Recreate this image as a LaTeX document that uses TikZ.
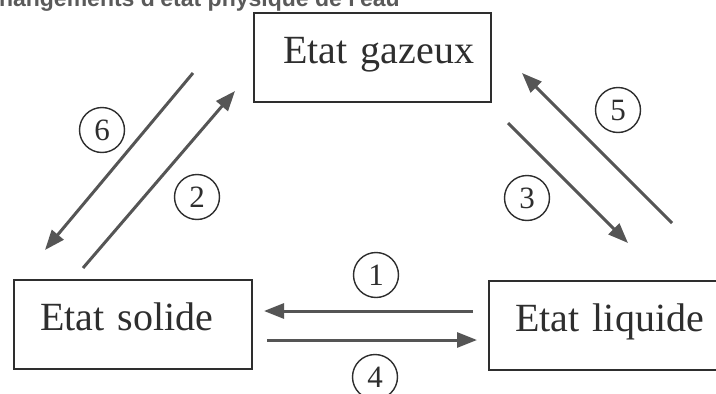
\documentclass[tikz,border=0pt]{standalone}
\usepackage{fontspec}
\setmainfont{Liberation Serif}
\newfontfamily\titlefont{Liberation Sans}
\usetikzlibrary{arrows.meta}
\definecolor{ink}{HTML}{2E2E2E}
\definecolor{arrowgray}{HTML}{555555}
\definecolor{titlegray}{HTML}{5A5A5A}
\tikzset{
  statebox/.style={draw=ink, line width=1.8pt, text=ink, rectangle,
    font=\fontsize{40}{44}\selectfont, align=left,
    minimum height=89, text height=27, text depth=16},
  numlabel/.style={draw=ink, line width=1.4pt, circle, text=ink,
    minimum size=45, inner sep=0pt, font=\fontsize{31}{34}\selectfont},
  change/.style={draw=arrowgray, line width=3pt,
    -{Triangle[length=20pt,width=15pt]}}
}
\begin{document}
\begin{tikzpicture}[x=1pt,y=-1pt]
\useasboundingbox (0,0) rectangle (716,394);
\fill[white] (0,0) rectangle (716,394);
\clip (0,0) rectangle (716,394);

% title, cut by the top edge
\node[anchor=base east, inner sep=0pt, text=titlegray,
  font=\titlefont\bfseries\fontsize{23}{26}\selectfont] (title) at (400,6)
  {Changements d'état physique de l'eau};

% the three states
\node[statebox, text width=179, inner xsep=29] (gaz) at (372.5,57.5) {\mbox{Etat gazeux}};
\node[statebox, text width=186, inner xsep=26] (sol) at (133,324.5) {\mbox{Etat solide}};
\node[statebox, text width=183, inner xsep=26] (liq) at (606.5,325.5) {\mbox{Etat liquide}};

% arrow end points
\coordinate (a6s) at (193,73);  \coordinate (a6e) at (45,250);
\coordinate (a2s) at (83,268);  \coordinate (a2e) at (235,91);
\coordinate (a5s) at (672,223); \coordinate (a5e) at (522,73);
\coordinate (a3s) at (508,123); \coordinate (a3e) at (628,243);
\coordinate (a1s) at (473,311); \coordinate (a1e) at (264,311);
\coordinate (a4s) at (267,340); \coordinate (a4e) at (477,340);

\draw[change] (a6s) -- (a6e);
\draw[change] (a2s) -- (a2e);
\draw[change] (a5s) -- (a5e);
\draw[change] (a3s) -- (a3e);
\draw[change] (a1s) -- (a1e);
\draw[change] (a4s) -- (a4e);

% numbered changes
\node[numlabel] (n6) at (102,130) {6};
\node[numlabel] (n2) at (197,197) {2};
\node[numlabel] (n5) at (618,110) {5};
\node[numlabel] (n3) at (527,198) {3};
\node[numlabel] (n1) at (376,275) {1};
\node[numlabel] (n4) at (375,377) {4};
\end{tikzpicture}
\end{document}
